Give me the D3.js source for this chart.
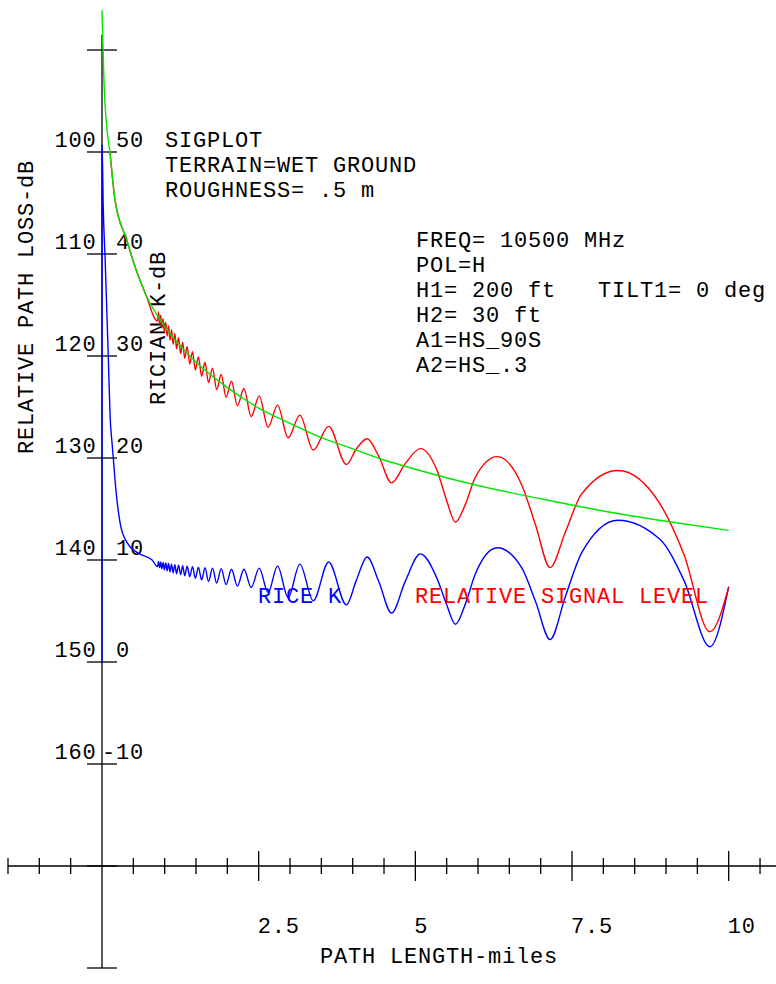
<!DOCTYPE html>
<html>
<head>
<meta charset="utf-8">
<script src="https://cdn.jsdelivr.net/npm/d3@7"></script>
<style>
  body { margin: 0; background: #fff; }
  svg { display: block; }
  text { font-family: "Liberation Mono", "DejaVu Sans Mono", monospace; font-size: 22px; letter-spacing: 0.8px; }
</style>
</head>
<body>
<div id="chart"></div>
<script>
// axis ticks and labels
const lossTicks = [100, 110, 120, 130, 140, 150, 160];
const kTicks = [50, 40, 30, 20, 10, 0, -10];
const xMajor = [2.5, 5, 7.5, 10];
const xMajorLabels = ['2.5', '5', '7.5', '10'];

// green reference curve (relative path loss, dB)
const greenDist = [0, 0.032, 0.08, 0.128, 0.207, 0.394, 0.53, 0.70, 1, 1.5, 2, 2.5, 3, 3.5, 4, 4.5, 5, 6, 7, 8, 9, 10];
const greenLoss = [86.1, 93.2, 97.8, 100.1, 104.7, 108.6, 111.3, 114.0, 117.1, 120.6, 123.1, 125.1, 126.6, 128.0, 129.1, 130.2, 131.1, 132.7, 134.0, 135.2, 136.2, 137.1];

// distances where the red / blue curves turn (shared), miles
const waveDist = [0.885, 0.902, 0.92, 0.937, 0.955, 0.975, 0.995, 1.017, 1.04, 1.062, 1.085, 1.109, 1.135, 1.162,
  1.19, 1.222, 1.255, 1.287, 1.32, 1.359, 1.40, 1.444, 1.49, 1.538, 1.59, 1.643, 1.70, 1.763, 1.83, 1.902,
  1.98, 2.066, 2.16, 2.265, 2.38, 2.508, 2.65, 2.801, 2.97, 3.157, 3.37, 3.616, 3.90,
  4.058, 4.23, 4.416, 4.62, 4.839, 5.079, 5.345, 5.489, 5.64, 5.793, 5.955, 6.306, 6.701, 6.919,
  7.15, 7.393, 7.653, 8.232, 8.906, 9.286, 9.70, 10.0];

// red: relative signal level (dB loss)
const redHeadDist = [0.128, 0.207, 0.394, 0.53, 0.70];
const redHeadLoss = [100.1, 104.7, 108.6, 111.3, 114.0];
const redWaveLoss = [116.58, 115.69, 116.92, 116.02, 117.25, 116.35, 117.64, 116.70, 118.04, 117.05, 118.44, 117.41,
  118.85, 117.79, 119.29, 118.20, 119.77, 118.64, 120.23, 119.08, 120.78, 119.57, 121.36, 120.09, 121.98, 120.62,
  122.61, 121.20, 123.29, 121.81, 124.04, 122.47, 124.88, 123.18, 125.94, 123.91, 126.98, 124.82, 128.02, 125.80,
  129.22, 126.90, 130.64,
  129.12, 128.12, 129.83, 132.44, 130.55, 129.08, 131.21, 133.96, 136.28, 134.62, 131.92, 129.87, 132.69, 136.59,
  140.75, 137.28, 133.52, 131.22, 134.52, 139.46, 147.04, 142.67];

// blue: Rice K (dB)
const blueHeadDist = [0, 0.001, 0.02, 0.05, 0.1, 0.13, 0.16, 0.18, 0.22, 0.29, 0.40, 0.57, 0.80];
const blueHeadK = [0, 50.7, 44.5, 39.5, 30, 24.0, 21.5, 20.0, 17.0, 13.6, 11.7, 10.7, 10.0];
const blueWaveK = [9.35, 9.85, 9.25, 9.8, 9.15, 9.75, 9.05, 9.7, 8.95, 9.65, 8.85, 9.6, 8.75, 9.55, 8.65, 9.5,
  8.55, 9.45, 8.45, 9.4, 8.35, 9.35, 8.2, 9.3, 8.05, 9.25, 7.9, 9.2, 7.75, 9.15, 7.6, 9.1, 7.45, 9.1, 7.3, 9.2,
  6.8, 9.4, 6.3, 9.6, 6.0, 9.8, 5.6,
  8.0, 10.3, 7.9, 4.8, 7.9, 10.6, 8.2, 5.8, 3.7, 5.6, 8.6, 11.2, 9.2, 5.9,
  2.2, 6.4, 10.7, 13.9, 12.0, 8.0, 1.5, 7.4];

const infoLeft = ['SIGPLOT', 'TERRAIN=WET GROUND', 'ROUGHNESS= .5 m'];
const infoRight = ['FREQ= 10500 MHz', 'POL=H', 'H1= 200 ft', 'H2= 30 ft', 'A1=HS_90S', 'A2=HS_.3'];

const W = 776, H = 984;
const svg = d3.select('#chart').append('svg').attr('width', W).attr('height', H);

const x = d3.scaleLinear().domain([0, 10]).range([102, 728.7]);
const yL = d3.scaleLinear().domain([90, 180]).range([50, 968]);
const yK = d3.scaleLinear().domain([60, -30]).range([50, 968]);

const axisY = yL(170);
const ax = svg.append('g').attr('stroke', '#000').attr('stroke-width', 1.3);

// horizontal axis
ax.append('line').attr('x1', x(-1.5)).attr('x2', W).attr('y1', axisY).attr('y2', axisY);
d3.range(-1.5, 10.51, 0.5).filter(v => v !== 0).forEach(v => {
  const big = xMajor.includes(v);
  const h = big ? 15 : 8;
  ax.append('line').attr('x1', x(v)).attr('x2', x(v)).attr('y1', axisY - h).attr('y2', axisY + h);
});

// vertical axis
ax.append('line').attr('x1', x(0)).attr('x2', x(0)).attr('y1', yL(88.5)).attr('y2', yL(180));
d3.range(90, 181, 10).forEach(v => {
  ax.append('line').attr('x1', x(0) - 15).attr('x2', x(0) + 15).attr('y1', yL(v)).attr('y2', yL(v));
});

// tick labels
lossTicks.forEach(v => {
  svg.append('text').attr('x', 96.5).attr('y', yL(v) - 5).attr('text-anchor', 'end').text(v);
});
kTicks.forEach(v => {
  svg.append('text').attr('x', v < 0 ? 102 : 116).attr('y', yK(v) - 5).text(v);
});
xMajor.forEach((v, i) => {
  svg.append('text').attr('x', x(v) - 1).attr('y', 933).text(xMajorLabels[i]);
});

// axis titles
svg.append('text').attr('transform', 'translate(33,307) rotate(-90)')
  .attr('text-anchor', 'middle').text('RELATIVE PATH LOSS-dB');
svg.append('text').attr('transform', 'translate(165,328) rotate(-90)')
  .attr('text-anchor', 'middle').text('RICIAN K-dB');
svg.append('text').attr('x', 320).attr('y', 963).text('PATH LENGTH-miles');

// curves
const blueData = d3.zip(blueHeadDist.concat(waveDist), blueHeadK.concat(blueWaveK));
const redData = d3.zip(redHeadDist.concat(waveDist), redHeadLoss.concat(redWaveLoss));
const greenData = d3.zip(greenDist, greenLoss);

const lineK = d3.line().x(d => x(d[0])).y(d => yK(d[1])).curve(d3.curveMonotoneX);
const lineL = d3.line().x(d => x(d[0])).y(d => yL(d[1])).curve(d3.curveMonotoneX);

svg.append('path').datum(blueData).attr('d', lineK)
  .attr('fill', 'none').attr('stroke', '#0000ff').attr('stroke-width', 1.4);
svg.append('path').datum(redData).attr('d', lineL)
  .attr('fill', 'none').attr('stroke', '#ff0000').attr('stroke-width', 1.4);
svg.append('path').datum(greenData).attr('d', lineL)
  .attr('fill', 'none').attr('stroke', '#00e600').attr('stroke-width', 1.4);

// annotation text
infoLeft.forEach((t, i) => {
  svg.append('text').attr('x', 165).attr('y', 147 + i * 25).text(t);
});
infoRight.forEach((t, i) => {
  svg.append('text').attr('x', 416).attr('y', 247 + i * 25).text(t);
});
svg.append('text').attr('x', 598).attr('y', 297).text('TILT1= 0 deg');

svg.append('text').attr('x', 258).attr('y', 603).attr('fill', '#0000ff').text('RICE K');
svg.append('text').attr('x', 415).attr('y', 603).attr('fill', '#ff0000').text('RELATIVE SIGNAL LEVEL');
</script>
</body>
</html>
